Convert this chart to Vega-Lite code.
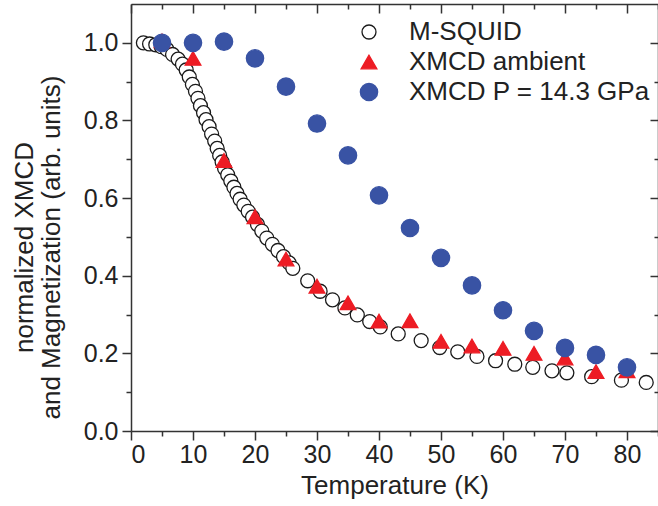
{
  "$schema": "https://vega.github.io/schema/vega-lite/v6.json",
  "width": 527,
  "height": 427,
  "autosize": {"type": "none"},
  "padding": {"left": 131, "top": 4, "right": 0, "bottom": 75},
  "background": "white",
  "config": {
    "view": {"stroke": null},
    "font": "Liberation Sans",
    "axis": {
      "domainColor": "#333333",
      "domainWidth": 1.5,
      "tickColor": "#333333",
      "tickWidth": 1.5,
      "labelFont": "Liberation Sans",
      "labelFontSize": 25,
      "labelColor": "#222222",
      "titleFont": "Liberation Sans",
      "titleFontSize": 26,
      "titleFontWeight": "normal",
      "titleColor": "#222222",
      "grid": false
    },
    "legend": {
      "orient": "none",
      "legendX": 225,
      "legendY": 15,
      "labelFont": "Liberation Sans",
      "labelFontSize": 26,
      "labelColor": "#222222",
      "labelOffset": 27,
      "labelLimit": 0,
      "rowPadding": 4,
      "symbolStrokeWidth": 1.3,
      "padding": 0
    }
  },
  "data": {
    "values": [
      {"series": "M-SQUID", "T": 2.0, "M": 1.000},
      {"series": "M-SQUID", "T": 3.0, "M": 0.997},
      {"series": "M-SQUID", "T": 4.0, "M": 0.995},
      {"series": "M-SQUID", "T": 4.9, "M": 0.990},
      {"series": "M-SQUID", "T": 5.8, "M": 0.983},
      {"series": "M-SQUID", "T": 6.7, "M": 0.970},
      {"series": "M-SQUID", "T": 7.6, "M": 0.958},
      {"series": "M-SQUID", "T": 8.3, "M": 0.945},
      {"series": "M-SQUID", "T": 8.9, "M": 0.930},
      {"series": "M-SQUID", "T": 9.4, "M": 0.912},
      {"series": "M-SQUID", "T": 9.9, "M": 0.893},
      {"series": "M-SQUID", "T": 10.4, "M": 0.875},
      {"series": "M-SQUID", "T": 10.8, "M": 0.857},
      {"series": "M-SQUID", "T": 11.2, "M": 0.838},
      {"series": "M-SQUID", "T": 11.7, "M": 0.820},
      {"series": "M-SQUID", "T": 12.1, "M": 0.802},
      {"series": "M-SQUID", "T": 12.6, "M": 0.784},
      {"series": "M-SQUID", "T": 13.0, "M": 0.765},
      {"series": "M-SQUID", "T": 13.5, "M": 0.747},
      {"series": "M-SQUID", "T": 13.9, "M": 0.728},
      {"series": "M-SQUID", "T": 14.3, "M": 0.710},
      {"series": "M-SQUID", "T": 14.7, "M": 0.693},
      {"series": "M-SQUID", "T": 15.1, "M": 0.676},
      {"series": "M-SQUID", "T": 15.6, "M": 0.660},
      {"series": "M-SQUID", "T": 16.1, "M": 0.644},
      {"series": "M-SQUID", "T": 16.6, "M": 0.628},
      {"series": "M-SQUID", "T": 17.1, "M": 0.612},
      {"series": "M-SQUID", "T": 17.6, "M": 0.597},
      {"series": "M-SQUID", "T": 18.2, "M": 0.582},
      {"series": "M-SQUID", "T": 18.9, "M": 0.566},
      {"series": "M-SQUID", "T": 19.6, "M": 0.551},
      {"series": "M-SQUID", "T": 20.4, "M": 0.532},
      {"series": "M-SQUID", "T": 21.1, "M": 0.515},
      {"series": "M-SQUID", "T": 21.9, "M": 0.497},
      {"series": "M-SQUID", "T": 22.8, "M": 0.481},
      {"series": "M-SQUID", "T": 23.7, "M": 0.465},
      {"series": "M-SQUID", "T": 24.6, "M": 0.449},
      {"series": "M-SQUID", "T": 25.5, "M": 0.433},
      {"series": "M-SQUID", "T": 26.1, "M": 0.419},
      {"series": "M-SQUID", "T": 28.5, "M": 0.387},
      {"series": "M-SQUID", "T": 30.5, "M": 0.360},
      {"series": "M-SQUID", "T": 32.5, "M": 0.338},
      {"series": "M-SQUID", "T": 34.5, "M": 0.317},
      {"series": "M-SQUID", "T": 36.5, "M": 0.299},
      {"series": "M-SQUID", "T": 38.5, "M": 0.282},
      {"series": "M-SQUID", "T": 40.2, "M": 0.268},
      {"series": "M-SQUID", "T": 43.1, "M": 0.250},
      {"series": "M-SQUID", "T": 46.8, "M": 0.233},
      {"series": "M-SQUID", "T": 49.8, "M": 0.215},
      {"series": "M-SQUID", "T": 52.7, "M": 0.204},
      {"series": "M-SQUID", "T": 55.8, "M": 0.192},
      {"series": "M-SQUID", "T": 58.8, "M": 0.181},
      {"series": "M-SQUID", "T": 61.9, "M": 0.172},
      {"series": "M-SQUID", "T": 64.8, "M": 0.164},
      {"series": "M-SQUID", "T": 67.9, "M": 0.155},
      {"series": "M-SQUID", "T": 70.3, "M": 0.150},
      {"series": "M-SQUID", "T": 74.3, "M": 0.140},
      {"series": "M-SQUID", "T": 79.1, "M": 0.131},
      {"series": "M-SQUID", "T": 83.1, "M": 0.125},
      {"series": "XMCD ambient", "T": 5, "M": 1.005},
      {"series": "XMCD ambient", "T": 10, "M": 0.960},
      {"series": "XMCD ambient", "T": 15, "M": 0.697},
      {"series": "XMCD ambient", "T": 20, "M": 0.552},
      {"series": "XMCD ambient", "T": 25, "M": 0.443},
      {"series": "XMCD ambient", "T": 30, "M": 0.373},
      {"series": "XMCD ambient", "T": 35, "M": 0.330},
      {"series": "XMCD ambient", "T": 40, "M": 0.283},
      {"series": "XMCD ambient", "T": 45, "M": 0.284},
      {"series": "XMCD ambient", "T": 50, "M": 0.231},
      {"series": "XMCD ambient", "T": 55, "M": 0.219},
      {"series": "XMCD ambient", "T": 60, "M": 0.213},
      {"series": "XMCD ambient", "T": 65, "M": 0.200},
      {"series": "XMCD ambient", "T": 70, "M": 0.188},
      {"series": "XMCD ambient", "T": 75, "M": 0.153},
      {"series": "XMCD ambient", "T": 80, "M": 0.155},
      {"series": "XMCD P = 14.3 GPa", "T": 5, "M": 1.000},
      {"series": "XMCD P = 14.3 GPa", "T": 10, "M": 1.000},
      {"series": "XMCD P = 14.3 GPa", "T": 15, "M": 1.003},
      {"series": "XMCD P = 14.3 GPa", "T": 20, "M": 0.960},
      {"series": "XMCD P = 14.3 GPa", "T": 25, "M": 0.887},
      {"series": "XMCD P = 14.3 GPa", "T": 30, "M": 0.792},
      {"series": "XMCD P = 14.3 GPa", "T": 35, "M": 0.710},
      {"series": "XMCD P = 14.3 GPa", "T": 40, "M": 0.607},
      {"series": "XMCD P = 14.3 GPa", "T": 45, "M": 0.523},
      {"series": "XMCD P = 14.3 GPa", "T": 50, "M": 0.446},
      {"series": "XMCD P = 14.3 GPa", "T": 55, "M": 0.375},
      {"series": "XMCD P = 14.3 GPa", "T": 60, "M": 0.311},
      {"series": "XMCD P = 14.3 GPa", "T": 65, "M": 0.258},
      {"series": "XMCD P = 14.3 GPa", "T": 70, "M": 0.214},
      {"series": "XMCD P = 14.3 GPa", "T": 75, "M": 0.196},
      {"series": "XMCD P = 14.3 GPa", "T": 80, "M": 0.164}
    ]
  },
  "layer": [
    {
      "mark": {"type": "point", "opacity": 1, "strokeWidth": 1.3},
      "encoding": {
        "x": {
          "field": "T", "type": "quantitative",
          "scale": {"domain": [0, 85], "nice": false, "zero": false},
          "axis": {
            "orient": "bottom",
            "title": "Temperature (K)",
            "values": [0, 5, 10, 15, 20, 25, 30, 35, 40, 45, 50, 55, 60, 65, 70, 75, 80, 85],
            "labelExpr": "datum.value % 10 === 0 && datum.value < 85 ? datum.label : ''",
            "tickSize": {"condition": {"test": "datum.value % 10 === 0", "value": 9}, "value": 5},
            "labelPadding": 2,
            "titlePadding": 5
          }
        },
        "y": {
          "field": "M", "type": "quantitative",
          "scale": {"domain": [0, 1.1], "nice": false, "zero": false},
          "axis": {
            "orient": "left",
            "title": ["normalized XMCD", "and Magnetization (arb. units)"],
            "titleLineHeight": 27,
            "titleY": 243,
            "values": [0, 0.1, 0.2, 0.3, 0.4, 0.5, 0.6, 0.7, 0.8, 0.9, 1.0],
            "labelExpr": "round(datum.value * 10) % 2 === 0 ? format(datum.value, '.1f') : ''",
            "tickSize": {"condition": {"test": "round(datum.value * 10) % 2 === 0", "value": 9}, "value": 5},
            "labelPadding": 4,
            "titlePadding": 19
          }
        },
        "shape": {
          "field": "series", "type": "nominal",
          "scale": {"domain": ["M-SQUID", "XMCD ambient", "XMCD P = 14.3 GPa"], "range": ["circle", "triangle-up", "circle"]},
          "legend": {"title": null}
        },
        "fill": {
          "field": "series", "type": "nominal",
          "scale": {"domain": ["M-SQUID", "XMCD ambient", "XMCD P = 14.3 GPa"], "range": ["#ffffff", "#ed1c24", "#3953a4"]},
          "legend": {"title": null}
        },
        "stroke": {
          "field": "series", "type": "nominal",
          "scale": {"domain": ["M-SQUID", "XMCD ambient", "XMCD P = 14.3 GPa"], "range": ["#1a1a1a", "#ed1c24", "#3953a4"]},
          "legend": {"title": null}
        },
        "size": {
          "field": "series", "type": "nominal",
          "scale": {"domain": ["M-SQUID", "XMCD ambient", "XMCD P = 14.3 GPa"], "range": [195, 300, 245]},
          "legend": {"title": null}
        }
      }
    },
    {
      "mark": {"type": "point", "opacity": 0},
      "encoding": {
        "x": {
          "field": "T", "type": "quantitative",
          "axis": {
            "orient": "top", "title": null, "labels": false,
            "values": [0, 5, 10, 15, 20, 25, 30, 35, 40, 45, 50, 55, 60, 65, 70, 75, 80, 85],
            "tickSize": {"condition": {"test": "datum.value % 10 === 0", "value": -9}, "value": -5}
          }
        },
        "y": {
          "field": "M", "type": "quantitative",
          "axis": {
            "orient": "right", "title": null, "labels": false,
            "values": [0, 0.1, 0.2, 0.3, 0.4, 0.5, 0.6, 0.7, 0.8, 0.9, 1.0],
            "tickSize": {"condition": {"test": "round(datum.value * 10) % 2 === 0", "value": -8}, "value": -4}
          }
        }
      }
    }
  ],
  "resolve": {"axis": {"x": "independent", "y": "independent"}}
}
